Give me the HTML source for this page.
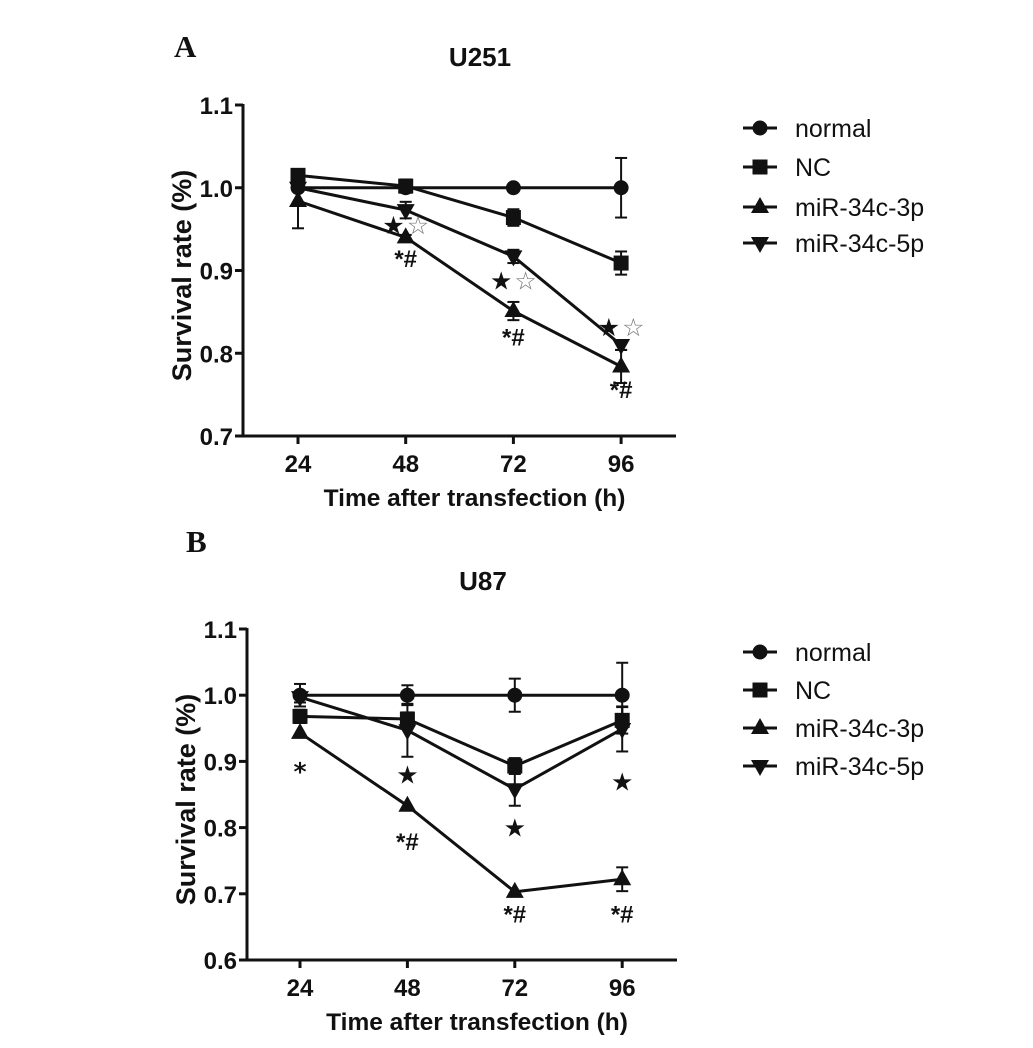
<!DOCTYPE html>
<html><head><meta charset="utf-8"><style>
body{margin:0;background:#fff}
svg{display:block}
text{font-family:"Liberation Sans",Arial,sans-serif;fill:#111}
</style></head><body>
<svg id="fig" width="1033" height="1048" viewBox="0 0 1033 1048">
<text x="174" y="57" style="font-family:'Liberation Serif',serif;font-weight:bold;font-size:31px">A</text>
<text x="480" y="66" text-anchor="middle" style="font-weight:bold;font-size:26px">U251</text>
<text x="186" y="552" style="font-family:'Liberation Serif',serif;font-weight:bold;font-size:31px">B</text>
<text x="483" y="590" text-anchor="middle" style="font-weight:bold;font-size:26px">U87</text>
<g id="chartA"></g>
<g id="chartB"></g>
</svg>
<script>
const seriesNames = ["normal","NC","miR-34c-3p","miR-34c-5p"];
const timeLabels = ["24","48","72","96"];
const ticksA = [0.7,0.8,0.9,1.0,1.1];
const ticksB = [0.6,0.7,0.8,0.9,1.0,1.1];
const normalA = [1.0,1.0,1.0,1.0];
const ncA = [1.015,1.002,0.964,0.909];
const p3A = [0.984,0.940,0.851,0.784];
const p5A = [1.0,0.973,0.917,0.810];
const normalAErr = [0,0,0,0.036];
const ncAErr = [0.004,0.008,0.010,0.014];
const p3AErr = [0.033,0.003,0.011,0.020];
const p5AErr = [0,0.010,0.008,0.006];
const normalB = [1.0,1.0,1.0,1.0];
const ncB = [0.968,0.964,0.893,0.962];
const p3B = [0.943,0.833,0.703,0.722];
const p5B = [0.997,0.947,0.858,0.949];
const normalBErr = [0.017,0.015,0.025,0.049];
const ncBErr = [0.010,0.010,0.012,0.020];
const p3BErr = [0,0,0,0.018];
const p5BErr = [0.008,0.040,0.025,0.034];
const annA = [[1,0.955,"★☆"],[1,0.915,"*#"],[2,0.888,"★☆"],[2,0.820,"*#"],[3,0.832,"★☆"],[3,0.757,"*#"]];
const annB = [[0,0.885,"*"],[1,0.880,"★"],[1,0.780,"*#"],[2,0.800,"★"],[2,0.670,"*#"],[3,0.870,"★"],[3,0.670,"*#"]];

const NS="http://www.w3.org/2000/svg";
function mk(parent,tag,attrs,txt){const e=document.createElementNS(NS,tag);for(const k in attrs)e.setAttribute(k,attrs[k]);if(txt!==undefined)e.textContent=txt;parent.appendChild(e);return e;}

function drawChart(g,cfg){
  const ys=v=>cfg.y0px-(v-cfg.ymin)/(cfg.ymax-cfg.ymin)*(cfg.y0px-cfg.y1px);
  const xs=i=>cfg.x0+i*cfg.dx;
  let e=mk(g,"line",{x1:cfg.ax,y1:cfg.y1px-1,x2:cfg.ax,y2:cfg.y0px+1,stroke:"#111","stroke-width":3});
  
  e=mk(g,"line",{x1:cfg.ax-8,y1:cfg.y0px,x2:cfg.axEnd,y2:cfg.y0px,stroke:"#111","stroke-width":3});
  
  cfg.ticks.forEach(t=>{
    const y=ys(t);
    mk(g,"line",{x1:cfg.ax-8,y1:y,x2:cfg.ax,y2:y,stroke:"#111","stroke-width":3});
    e=mk(g,"text",{x:cfg.ax-10,y:y+9,"text-anchor":"end","font-size":"24","font-weight":"bold"},t.toFixed(1));
    
  });
  timeLabels.forEach((l,i)=>{
    mk(g,"line",{x1:xs(i),y1:cfg.y0px,x2:xs(i),y2:cfg.y0px+8,stroke:"#111","stroke-width":3});
    e=mk(g,"text",{x:xs(i),y:cfg.y0px+36,"text-anchor":"middle","font-size":"24","font-weight":"bold"},l);
    
  });
  e=mk(g,"text",{x:(cfg.ax+cfg.axEnd)/2+15,y:cfg.y0px+70,"text-anchor":"middle","font-size":"24.5","font-weight":"bold"},"Time after transfection (h)");
  
  const cy=(cfg.y0px+cfg.y1px)/2+5;
  e=mk(g,"text",{x:0,y:0,transform:`translate(${cfg.ax-52},${cy}) rotate(-90)`,"text-anchor":"middle","font-size":"27","font-weight":"bold"},"Survival rate (%)");
  
  const marker=(p,k,x,y)=>{
    let m;
    if(k===0) m=mk(p,"circle",{cx:x,cy:y,r:7.5,fill:"#111"});
    else if(k===1) m=mk(p,"rect",{x:x-7.5,y:y-7.5,width:15,height:15,fill:"#111"});
    else if(k===2) m=mk(p,"polygon",{points:`${x},${y-10} ${x-9},${y+6} ${x+9},${y+6}`,fill:"#111"});
    else m=mk(p,"polygon",{points:`${x},${y+10} ${x-9},${y-6} ${x+9},${y-6}`,fill:"#111"});
    return m;
  };
  cfg.series.forEach((s,k)=>{
    const sg=mk(g,"g",{});
    
    
    mk(sg,"polyline",{points:s.v.map((v,i)=>xs(i)+","+ys(v)).join(" "),fill:"none",stroke:"#111","stroke-width":3});
    s.v.forEach((v,i)=>{
      const er=s.e[i];
      if(er>0){
        const x=xs(i);
        mk(sg,"line",{x1:x,y1:ys(v+er),x2:x,y2:ys(v-er),stroke:"#111","stroke-width":2});
        mk(sg,"line",{x1:x-6,y1:ys(v+er),x2:x+6,y2:ys(v+er),stroke:"#111","stroke-width":2});
        mk(sg,"line",{x1:x-6,y1:ys(v-er),x2:x+6,y2:ys(v-er),stroke:"#111","stroke-width":2});
      }
      const m=marker(sg,k,xs(i),ys(v));
      
      
    });
  });
  cfg.ann.forEach(a=>{
    const t=mk(g,"text",{x:xs(a[0]),y:ys(a[1])+9,"text-anchor":"middle","font-size":"25","font-weight":"bold",fill:"#111",style:"font-family:'DejaVu Sans','Liberation Sans',sans-serif"},"");
    
    
    if(a[2]==="★☆"){
      mk(t,"tspan",{},"★");mk(t,"tspan",{dx:"2","font-weight":"normal",fill:"#777"},"☆");
    } else if(a[2]==="*#"){
      t.setAttribute('font-size','24');t.setAttribute('style',"font-family:'Liberation Sans',sans-serif");t.textContent="*#";
    } else t.textContent=a[2];
  });
  seriesNames.forEach((n,k)=>{
    const y=cfg.leg[k];
    const lg=mk(g,"g",{});
    
    
    mk(lg,"line",{x1:743,y1:y,x2:777,y2:y,stroke:"#111","stroke-width":3});
    marker(lg,k,760,y);
    mk(lg,"text",{x:795,y:y+9,"font-size":"25"},n);
  });
}
drawChart(document.getElementById("chartA"),{ax:243,axEnd:676,y0px:436,y1px:105,ymin:0.7,ymax:1.1,x0:298,dx:107.7,ticks:ticksA,
  series:[{v:normalA,e:normalAErr},{v:ncA,e:ncAErr},{v:p3A,e:p3AErr},{v:p5A,e:p5AErr}],ann:annA,leg:[128,167,207,243]});
drawChart(document.getElementById("chartB"),{ax:247,axEnd:677,y0px:960,y1px:629,ymin:0.6,ymax:1.1,x0:300,dx:107.4,ticks:ticksB,
  series:[{v:normalB,e:normalBErr},{v:ncB,e:ncBErr},{v:p3B,e:p3BErr},{v:p5B,e:p5BErr}],ann:annB,leg:[652,690,728,766]});
</script>
</body></html>
